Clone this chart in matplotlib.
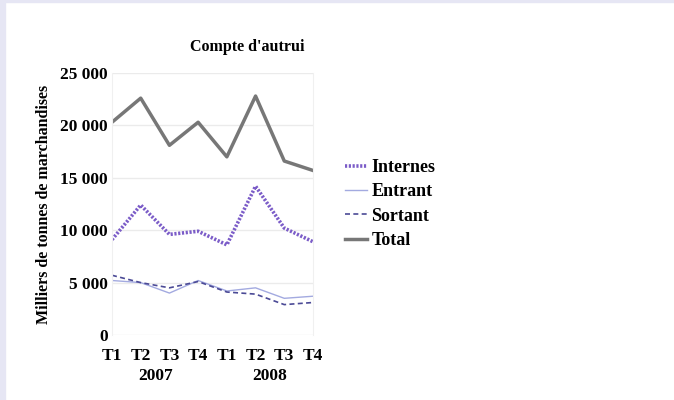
import matplotlib.pyplot as plt
from matplotlib.patches import Rectangle

plt.rcParams['font.family'] = ['Liberation Serif', 'DejaVu Serif']
plt.rcParams['font.weight'] = 'bold'

quarters = ['T1', 'T2', 'T3', 'T4', 'T1', 'T2', 'T3', 'T4']
years = ['2007', '2008']
internes = [9100, 12400, 9600, 9900, 8600, 14200, 10200, 8900]
entrant = [5200, 5000, 4000, 5200, 4200, 4500, 3500, 3700]
sortant = [5700, 5000, 4500, 5100, 4100, 3900, 2900, 3100]
total = [20300, 22600, 18100, 20300, 17000, 22800, 16600, 15700]

fig = plt.figure(figsize=(6.74, 4), dpi=100)
fig.patch.set_facecolor('white')
# light lavender frame on the left and top
fig.patches.append(Rectangle((0, 0), 5 / 674, 1, transform=fig.transFigure,
                             color='#e6e6f4', zorder=0))
fig.patches.append(Rectangle((0, 1 - 2 / 400), 1, 2 / 400, transform=fig.transFigure,
                             color='#e6e6f4', zorder=0))

ax = fig.add_axes([112 / 674, 1 - 335 / 400, 201 / 674, 262 / 400])
x = range(len(quarters))

ax.plot(x, internes, color='#7b5cc8', linestyle=(0, (0.6, 0.45)), linewidth=2.6, label='Internes')
ax.plot(x, entrant, color='#a3aae0', linewidth=1, label='Entrant')
ax.plot(x, sortant, color='#4b4a96', linestyle=(0, (3, 2)), linewidth=1.2, label='Sortant')
ax.plot(x, total, color='#777777', linewidth=2.5, label='Total')

ax.set_xlim(0, 7)
ax.set_ylim(0, 25000)
ax.set_yticks(range(0, 25001, 5000))
ax.set_yticklabels(['0', '5 000', '10 000', '15 000', '20 000', '25 000'])
ax.set_xticks(list(x))
ax.set_xticklabels(quarters)
ax.tick_params(length=0, labelsize=12.5)
ax.tick_params(axis='x', pad=9)
ax.tick_params(axis='y', pad=3)
ax.grid(axis='y', color='#ebebeb', linewidth=1)
for s in ['top', 'bottom']:
    ax.spines[s].set_visible(False)
for s in ['left', 'right']:
    ax.spines[s].set_color('#f0f0f0')
ax.set_axisbelow(True)

for i, yr in enumerate(years):
    ax.text(1.5 + 4 * i, -0.125, yr, transform=ax.get_xaxis_transform(),
            ha='center', va='top', fontsize=12.5, fontweight='bold')

ax.set_ylabel('Milliers de tonnes de marchandises', fontsize=11.5, fontweight='bold', labelpad=6)
fig.text(247 / 674, 1 - 47 / 400, "Compte d'autrui", ha='center', va='center',
         fontsize=11.5, fontweight='bold')

ax.legend(loc='center left', bbox_to_anchor=(1.08, 0.5), frameon=False,
          fontsize=13, handlelength=1.2, handletextpad=0.25, labelspacing=0.4)

fig.savefig('out.png', dpi=100)
